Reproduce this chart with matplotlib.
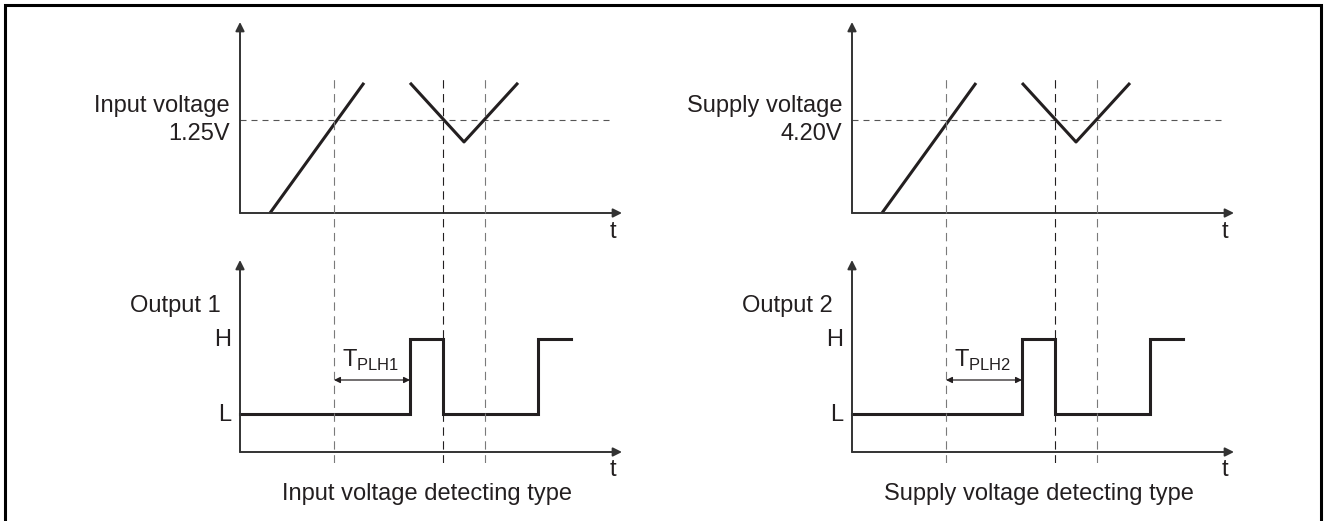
import matplotlib.pyplot as plt
from matplotlib.patches import Rectangle

# ---- data (time in arbitrary units, same timing for both detector types) ----
t_end = 38.2
ramp_t = [3.0, 12.4]
vee_t = [17.0, 22.4, 27.8]
cross_t = [9.4, 20.3, 24.5]          # where the input crosses the detect level
out_t = [0.0, 17.0, 17.0, 20.3, 20.3, 29.8, 29.8, 33.1]
out_lvl = [0, 0, 1, 1, 0, 0, 1, 1]   # 0 = L, 1 = H
delay_t = [9.4, 17.0]                # T_PLH span

input_names = ['Input voltage', 'Supply voltage']
thresholds = [1.25, 4.20]
threshold_labels = ['1.25V', '4.20V']
ramp_v = [[0.0, 1.74], [0.0, 5.84]]
vee_v = [[1.74, 0.95, 1.74], [5.84, 3.19, 5.84]]
output_names = ['Output 1', 'Output 2']
delay_names = ['PLH1', 'PLH2']
titles = ['Input voltage detecting type', 'Supply voltage detecting type']

# ---- style ----
plt.rcParams['font.family'] = ['Liberation Sans', 'DejaVu Sans']
plt.rcParams['mathtext.fontset'] = 'custom'
plt.rcParams['mathtext.rm'] = 'Liberation Sans'
ink = '#231f20'
axis_c = '#333333'
grey = '#7a7a7a'
fs = 17

W, H = 1327, 521
fig = plt.figure(figsize=(W / 100, H / 100), dpi=100)


def px_axes(x0, y0, x1, y1):
    ax = fig.add_axes([x0 / W, 1 - y1 / H, (x1 - x0) / W, (y1 - y0) / H])
    ax.set_axis_off()
    return ax


def px_text(x, y, s, **kw):
    kw.setdefault('fontsize', fs)
    kw.setdefault('color', ink)
    fig.text(x / W, 1 - y / H, s, **kw)


def draw_axes_arrows(ax):
    arrow = dict(arrowstyle='-|>', lw=1.4, color=axis_c, mutation_scale=13,
                 shrinkA=0, shrinkB=0)
    ax.annotate('', xy=(1, 0), xytext=(0, 0), xycoords='axes fraction', arrowprops=arrow)
    ax.annotate('', xy=(0, 1), xytext=(0, 0), xycoords='axes fraction', arrowprops=arrow)


for i in range(2):
    dx = 612 * i
    thr = thresholds[i]

    # top: input / supply voltage
    top = px_axes(240 + dx, 22, 622 + dx, 213)
    top.set_xlim(0, t_end)
    top.set_ylim(0, thr * 191 / 93.5)
    draw_axes_arrows(top)
    top.hlines(thr, 0, 37.3, colors='#555555', lw=0.8, linestyles=(0, (5.4, 4.5)))
    top.plot(ramp_t, ramp_v[i], color=ink, lw=2.2, solid_capstyle='butt', clip_on=False)
    top.plot(vee_t, vee_v[i], color=ink, lw=2.2, solid_capstyle='butt', clip_on=False)

    # bottom: output
    bot = px_axes(240 + dx, 260, 622 + dx, 452)
    bot.set_xlim(0, t_end)
    bot.set_ylim(-0.507, 2.053)
    draw_axes_arrows(bot)
    bot.plot(out_t, out_lvl, color=ink, lw=2.2, solid_joinstyle='miter', clip_on=False)
    bot.annotate('', xy=(delay_t[1], 0.453), xytext=(delay_t[0], 0.453), xycoords='data',
                 arrowprops=dict(arrowstyle='<|-|>', lw=0.9, color=ink,
                                 mutation_scale=9, shrinkA=0, shrinkB=0))

    # dashed crossing markers through both plots
    over = px_axes(240 + dx, 77, 622 + dx, 463)
    over.set_xlim(0, t_end)
    over.set_ylim(0, 1)
    for k, tc in enumerate(cross_t):
        c = ink if k == 1 else grey
        over.axvline(tc, 0, 1, color=c, lw=0.8, linestyle=(0, (7.5, 5.0)))

    # labels
    px_text(230 + dx, 112, input_names[i], ha='right', va='baseline')
    px_text(230 + dx, 140, threshold_labels[i], ha='right', va='baseline')
    px_text(130 + dx, 312, output_names[i], ha='left', va='baseline')
    px_text(231 + dx, 340, 'H', ha='right', va='center')
    px_text(231 + dx, 415, 'L', ha='right', va='center')
    px_text(342 + dx, 367, 'T$_{\\mathrm{' + delay_names[i] + '}}$', ha='left', va='baseline')
    px_text(613 + dx, 232, 't', ha='center', va='center')
    px_text(613 + dx, 470, 't', ha='center', va='center')
    px_text(427 + dx, 500, titles[i], ha='center', va='baseline')

# frame (bottom edge lies outside the picture)
fig.patches.append(Rectangle((5 / W, -0.05), 1316 / W, 1 - 5 / H + 0.05,
                             transform=fig.transFigure, fill=False,
                             edgecolor='black', lw=2.2))

fig.savefig('out.png', dpi=100, facecolor='white')
